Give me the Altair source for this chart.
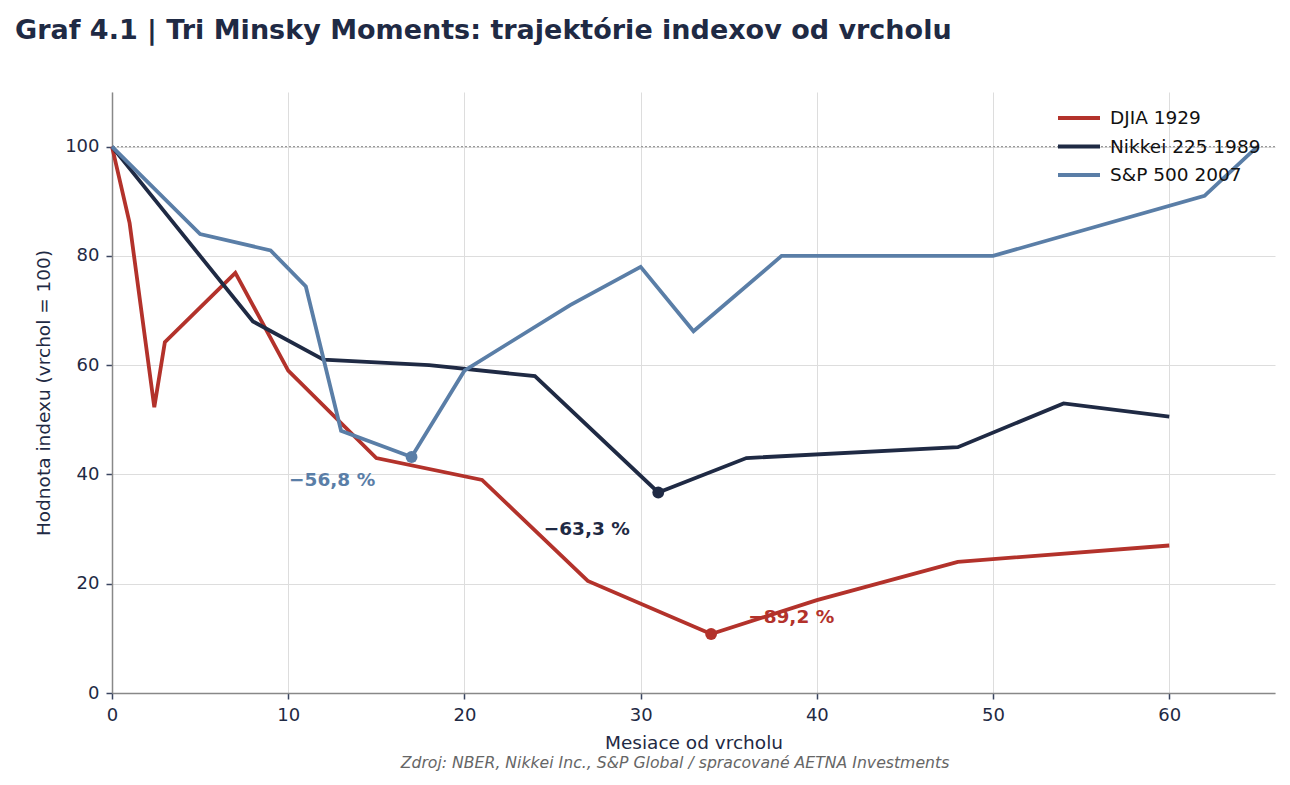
import altair as alt
import pandas as pd

# ---- data ----
series_names = ["DJIA 1929", "Nikkei 225 1989", "S&P 500 2007"]
series_colors = ["#b3322b", "#1f2a44", "#5a7ea7"]

djia_x = [0, 1, 2.4, 3, 7, 10, 15, 21, 27, 34, 40, 48, 60]
djia_y = [100, 86, 52.3, 64.2, 76.9, 59, 43, 39, 20.5, 10.8, 17, 24, 27]

nikkei_x = [0, 8, 12, 18, 24, 31, 36, 48, 54, 60]
nikkei_y = [100, 68, 61, 60, 58, 36.7, 43, 45, 53, 50.6]

sp_x = [0, 5, 9, 11, 13, 17, 20, 26, 30, 33, 38, 50, 62, 65]
sp_y = [100, 84, 81, 74.4, 48, 43.2, 59, 71, 78, 66.2, 80, 80, 91, 100]

trough_series = ["S&P 500 2007", "Nikkei 225 1989", "DJIA 1929"]
trough_x = [17, 31, 34]
trough_y = [43.2, 36.7, 10.8]

label_text = ["\u221256,8 %", "\u221263,3 %", "\u221289,2 %"]
label_x = [10.05, 24.5, 36.1]
label_y = [39, 30, 14]

ref_level = [100]

title_text = "Graf 4.1 | Tri Minsky Moments: trajektórie indexov od vrcholu"
source_text = "Zdroj: NBER, Nikkei Inc., S&P Global / spracované AETNA Investments"

# ---- tables ----
rows = []
for name, xs, ys in [(series_names[0], djia_x, djia_y),
                     (series_names[1], nikkei_x, nikkei_y),
                     (series_names[2], sp_x, sp_y)]:
    for x, y in zip(xs, ys):
        rows.append({"series": name, "month": x, "value": y})
df = pd.DataFrame(rows)

troughs = pd.DataFrame({"series": trough_series, "month": trough_x, "value": trough_y})
labels = pd.DataFrame({"series": trough_series, "month": label_x, "value": label_y, "text": label_text})
ref = pd.DataFrame({"value": ref_level})
src = pd.DataFrame({"t": [source_text]})

FONT = "DejaVu Sans"
NAVY = "#1f2a44"

xscale = alt.Scale(domain=[0, 66], nice=False, zero=False)
yscale = alt.Scale(domain=[0, 110], nice=False)
color_scale = alt.Scale(domain=series_names, range=series_colors)

x_enc = alt.X("month:Q", scale=xscale,
              axis=alt.Axis(title="Mesiace od vrcholu", values=[0, 10, 20, 30, 40, 50, 60],
                            labelFlush=False))
y_enc = alt.Y("value:Q", scale=yscale,
              axis=alt.Axis(title="Hodnota indexu (vrchol = 100)", values=[0, 20, 40, 60, 80, 100]))

refline = alt.Chart(ref).mark_rule(color="#999999", strokeDash=[2, 2], strokeWidth=1.2).encode(
    y=alt.Y("value:Q", scale=yscale)
)

lines = alt.Chart(df).mark_line(strokeWidth=3.8).encode(
    x=x_enc,
    y=y_enc,
    color=alt.Color("series:N", scale=color_scale,
                    sort=series_names,
                    legend=alt.Legend(title=None, orient="top-right",
                                      symbolType="M-2.1,0L2.1,0", symbolSize=400,
                                      symbolStrokeWidth=3.8,
                                      labelFontSize=18.5, labelFont=FONT, labelColor="#111111",
                                      labelOffset=19, rowPadding=6.5,
                                      offset=8, padding=6)),
)

points = alt.Chart(troughs).mark_circle(size=140, opacity=1).encode(
    x=alt.X("month:Q", scale=xscale),
    y=alt.Y("value:Q", scale=yscale),
    color=alt.Color("series:N", scale=color_scale, legend=None),
)

texts = alt.Chart(labels).mark_text(align="left", baseline="middle", fontWeight="bold",
                                    fontSize=18.5, font=FONT).encode(
    x=alt.X("month:Q", scale=xscale),
    y=alt.Y("value:Q", scale=yscale),
    text="text:N",
    color=alt.Color("series:N", scale=color_scale, legend=None),
)

source = alt.Chart(src).mark_text(align="center", baseline="middle", fontSize=15.7,
                                  fontStyle="italic", font=FONT, color="#666666").encode(
    x=alt.value(563), y=alt.value(671), text="t:N"
)

chart = alt.layer(refline, lines, points, texts, source).properties(
    width=1163,
    height=601,
    title=alt.TitleParams(title_text, anchor="start", frame="group", dx=-97,
                          fontSize=27, font=FONT, fontWeight="bold", color=NAVY,
                          baseline="alphabetic", offset=26),
    autosize=alt.AutoSizeParams(type="none"),
    padding={"left": 112, "top": 92, "right": 15, "bottom": 92},
).configure_view(stroke=None).configure_axis(
    labelFont=FONT, labelFontSize=18, labelColor=NAVY,
    titleFont=FONT, titleFontSize=18.5, titleColor=NAVY, titleFontWeight="normal",
    domainColor="#888888", domainWidth=1.5,
    tickColor="#3a4560", tickSize=6, tickWidth=1.5,
    gridColor="#dddddd", gridWidth=1,
    labelPadding=7, titlePadding=9,
).configure_axisY(titlePadding=11)

chart.save("out.html", embed_options={"renderer": "svg", "actions": False})
